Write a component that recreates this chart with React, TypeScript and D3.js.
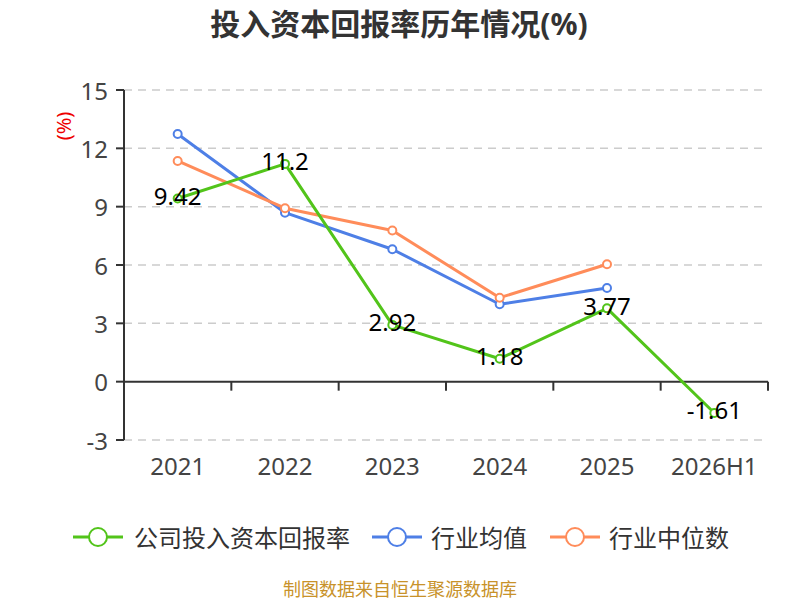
import React from "react";
import * as d3 from "d3";

const categories = ["2021", "2022", "2023", "2024", "2025", "2026H1"];
const companyValues: (number | null)[] = [9.42, 11.2, 2.92, 1.18, 3.77, -1.61];
const industryAvg: (number | null)[] = [12.74, 8.69, 6.81, 3.98, 4.82, null];
const industryMedian: (number | null)[] = [11.35, 8.92, 7.77, 4.32, 6.04, null];
const yTicks = [-3, 0, 3, 6, 9, 12, 15];
const seriesNames = ["公司投入资本回报率", "行业均值", "行业中位数"];

const COLORS = ["#52C41A", "#4E7FE6", "#FF8C5A"];
const FONT = "'Noto Sans', 'Noto Sans CJK SC', sans-serif";

export default function App() {
  const W = 800, H = 600;
  const left = 124, right = 768, top = 90, bottom = 440;
  const x = d3.scaleBand<string>().domain(categories).range([left, right]);
  const y = d3.scaleLinear().domain([-3, 15]).range([bottom, top]);
  const cx = (c: string) => (x(c) as number) + x.bandwidth() / 2;

  const line = d3
    .line<[string, number | null]>()
    .defined((d) => d[1] !== null)
    .x((d) => cx(d[0]))
    .y((d) => y(d[1] as number));

  const series = [companyValues, industryAvg, industryMedian];
  const drawOrder = [1, 2, 0];

  const legendItems = [
    { lineX: 73, textX: 134 },
    { lineX: 372, textX: 431 },
    { lineX: 550, textX: 609 },
  ];

  return (
    <svg width={W} height={H} style={{ position: "absolute", left: 0, top: 0, background: "#fff" }} fontFamily={FONT}>
      <text x={399} y={23} textAnchor="middle" dominantBaseline="central" fontSize={30} fontWeight="bold" fill="#333">
        投入资本回报率历年情况(%)
      </text>
      <text
        transform={`translate(63,126) rotate(-90)`}
        textAnchor="middle"
        dominantBaseline="central"
        fontSize={20}
        fill="#e00"
      >
        (%)
      </text>

      {/* grid lines */}
      {yTicks.filter((t) => t !== 0).map((t) => (
        <line key={t} x1={left} x2={right} y1={y(t)} y2={y(t)} stroke="#ccc" strokeWidth={1.5} strokeDasharray="8 6" />
      ))}

      {/* y axis */}
      <line x1={left} x2={left} y1={top} y2={bottom} stroke="#333" strokeWidth={2} />
      {yTicks.map((t) => (
        <g key={t}>
          <line x1={left - 8} x2={left} y1={y(t)} y2={y(t)} stroke="#333" strokeWidth={2} />
          <text x={108} y={y(t)} textAnchor="end" dominantBaseline="central" fontSize={24} fill="#444">
            {t}
          </text>
        </g>
      ))}

      {/* x axis at zero */}
      <line x1={left} x2={right} y1={y(0)} y2={y(0)} stroke="#333" strokeWidth={2} />
      {categories.map((c) => (
        <line
          key={"tk" + c}
          x1={(x(c) as number) + x.bandwidth()}
          x2={(x(c) as number) + x.bandwidth()}
          y1={y(0)}
          y2={y(0) + 9}
          stroke="#333"
          strokeWidth={2}
        />
      ))}
      {categories.map((c) => (
        <text key={"xl" + c} x={cx(c)} y={465} textAnchor="middle" dominantBaseline="central" fontSize={24} fill="#444">
          {c}
        </text>
      ))}

      {/* lines */}
      {drawOrder.map((si) => {
        const data = categories.map((c, i) => [c, series[si][i]] as [string, number | null]);
        return (
          <g key={"s" + si}>
            <path d={line(data) || ""} fill="none" stroke={COLORS[si]} strokeWidth={3} strokeLinejoin="round" />
            {data
              .filter((d) => d[1] !== null)
              .map((d) => (
                <circle key={d[0]} cx={cx(d[0])} cy={y(d[1] as number)} r={4} fill="#fff" stroke={COLORS[si]} strokeWidth={2} />
              ))}
          </g>
        );
      })}

      {/* data labels for company series */}
      {categories.map((c, i) =>
        companyValues[i] === null ? null : (
          <text
            key={"dl" + c}
            x={cx(c)}
            y={y(companyValues[i] as number) - 3}
            textAnchor="middle"
            dominantBaseline="central"
            fontSize={24}
            fill="#000"
          >
            {companyValues[i]}
          </text>
        )
      )}

      {/* legend */}
      {seriesNames.map((name, i) => (
        <g key={"lg" + i}>
          <line x1={legendItems[i].lineX} x2={legendItems[i].lineX + 50} y1={537} y2={537} stroke={COLORS[i]} strokeWidth={3} />
          <circle cx={legendItems[i].lineX + 25} cy={537} r={9} fill="#fff" stroke={COLORS[i]} strokeWidth={2} />
          <text x={legendItems[i].textX} y={537} dominantBaseline="central" fontSize={24} fill="#333">
            {name}
          </text>
        </g>
      ))}

      <text x={400} y={589} textAnchor="middle" dominantBaseline="central" fontSize={18} fill="#C8922A">
        制图数据来自恒生聚源数据库
      </text>
    </svg>
  );
}
